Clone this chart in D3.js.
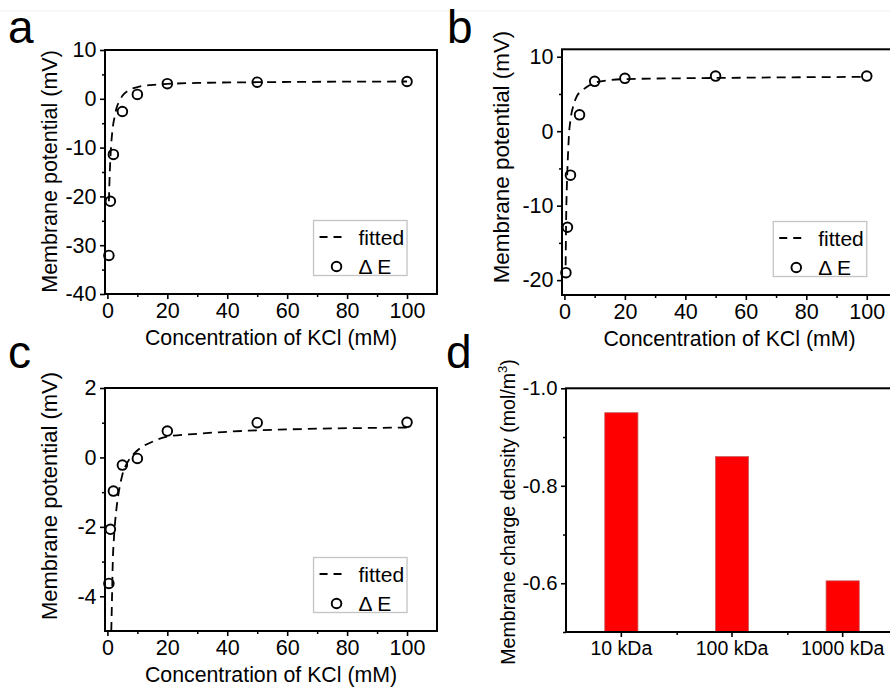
<!DOCTYPE html>
<html>
<head>
<meta charset="utf-8">
<script src="https://cdn.jsdelivr.net/npm/d3@7"></script>
<style>
  body { margin: 0; background: #fff; }
  svg { display: block; }
  text { font-family: "Liberation Sans", Arial, Helvetica, sans-serif; fill: #000; }
</style>
</head>
<body>
<svg id="fig" width="890" height="689"></svg>
<script>
// ---- data ----
const concentration = [0.5, 1, 2, 5, 10, 20, 50, 100];   // KCl, mM

const deltaE_a = [-32.1, -21.0, -11.4, -2.6, 0.9, 3.1, 3.4, 3.55];
const deltaE_b = [-19.0, -12.9, -5.9, 2.2, 6.7, 7.1, 7.4, 7.4];
const deltaE_c = [-3.63, -2.07, -0.97, -0.22, -0.03, 0.76, 1.0, 1.01];

const fitX_a = [0.5, 0.8, 1.2, 1.6, 2, 2.5, 3, 4, 5, 7, 10, 15, 20, 30, 50, 100];
const fitY_a = [-21, -15, -10, -7, -5, -3.5, -2, -0.5, 0.6, 1.7, 2.4, 2.85, 3.05, 3.25, 3.4, 3.55];

const fitX_b = [0.4, 0.6, 0.8, 1.0, 1.2, 1.5, 2, 3, 4, 6, 8, 10, 15, 20, 50, 100];
const fitY_b = [-18, -11, -7.5, -5, -3, -0.5, 1.5, 3.5, 4.6, 5.5, 6.1, 6.5, 6.85, 7.0, 7.15, 7.3];

const fitX_c = [1.3, 1.5, 1.8, 2.2, 3, 4, 5, 7, 10, 15, 20, 30, 50, 100];
const fitY_c = [-5, -4.2, -3, -2.3, -1.5, -0.9, -0.5, -0.1, 0.2, 0.45, 0.6, 0.68, 0.78, 0.86];

const membranes = ["10 kDa", "100 kDa", "1000 kDa"];
const chargeDensity = [-0.95, -0.86, -0.605];

// ---- tick values ----
const xTicks = [0, 20, 40, 60, 80, 100];
const xMinorTicks = [10, 30, 50, 70, 90];
const yTicks_a = [-40, -30, -20, -10, 0, 10];
const yMinor_a = [-35, -25, -15, -5, 5];
const yTicks_b = [-20, -10, 0, 10];
const yMinor_b = [-15, -5, 5];
const yTicks_c = [-4, -2, 0, 2];
const yMinor_c = [-3, -1, 1];
const yTicks_d = [-1.0, -0.8, -0.6];
const yMinor_d = [-0.9, -0.7, -0.5];

const svg = d3.select("#fig");
const FONT = '"Liberation Sans", Arial, Helvetica, sans-serif';

// faint rule near the top edge
svg.append("line").attr("x1", 0).attr("x2", 890).attr("y1", 11).attr("y2", 11)
  .attr("stroke", "#f0f0f0").attr("stroke-width", 1);

function styleAxis(g, size, tickW) {
  g.select(".domain").remove();
  g.attr("font-family", FONT).attr("font-size", size);
  g.selectAll(".tick line").attr("stroke", "#000").attr("stroke-width", tickW);
  g.selectAll(".tick text").attr("fill", "#000");
}

function panelLetter(ch, x, y) {
  svg.append("text").attr("x", x).attr("y", y).attr("font-size", 46).text(ch);
}

function scatterPanel(o) {
  const x = d3.scaleLinear().domain([-0.8, 110]).range([o.left, o.right]);
  const y = d3.scaleLinear().domain(o.yDomain).range([o.bottom, o.top]);
  const g = svg.append("g");

  const clipId = "clip-" + o.id;
  g.append("clipPath").attr("id", clipId).append("rect")
    .attr("x", o.left).attr("y", o.top)
    .attr("width", o.right - o.left).attr("height", o.bottom - o.top);

  // minor ticks
  g.append("g").attr("transform", `translate(0,${o.bottom})`)
    .call(d3.axisBottom(x).tickValues(xMinorTicks).tickSize(3).tickFormat(""))
    .call(a => styleAxis(a, 21, 1.5));
  g.append("g").attr("transform", `translate(${o.left},0)`)
    .call(d3.axisLeft(y).tickValues(o.yMinor).tickSize(3).tickFormat(""))
    .call(a => styleAxis(a, 21, 1.5));

  // major ticks with labels
  g.append("g").attr("transform", `translate(0,${o.bottom})`)
    .call(d3.axisBottom(x).tickValues(xTicks).tickSize(5).tickPadding(4).tickFormat(d3.format("d")))
    .call(a => styleAxis(a, 21.5, 1.6));
  g.append("g").attr("transform", `translate(${o.left},0)`)
    .call(d3.axisLeft(y).tickValues(o.yTicks).tickSize(5).tickPadding(3.5).tickFormat(d3.format("d")))
    .call(a => styleAxis(a, 21.5, 1.6));

  // frame
  g.append("rect")
    .attr("x", o.left).attr("y", o.top)
    .attr("width", o.right - o.left).attr("height", o.bottom - o.top)
    .attr("fill", "none").attr("stroke", "#000").attr("stroke-width", 2);

  // fitted curve
  const fit = o.fitX.map((v, i) => [v, o.fitY[i]]);
  g.append("path")
    .attr("clip-path", `url(#${clipId})`)
    .attr("d", d3.line().x(d => x(d[0])).y(d => y(d[1])).curve(d3.curveMonotoneX)(fit))
    .attr("fill", "none").attr("stroke", "#000").attr("stroke-width", 1.8)
    .attr("stroke-dasharray", "9,6");

  // measured points
  g.selectAll("circle.pt").data(concentration.map((c, i) => [c, o.values[i]]))
    .join("circle").attr("class", "pt")
    .attr("cx", d => x(d[0])).attr("cy", d => y(d[1])).attr("r", 4.8)
    .attr("fill", "none").attr("stroke", "#000").attr("stroke-width", 1.9);

  // legend
  const lx = x(100) - 93.5, ly = o.bottom - 18.5 - 55;
  const lg = g.append("g").attr("transform", `translate(${lx},${ly})`);
  lg.append("rect").attr("width", 93.5).attr("height", 55)
    .attr("fill", "#fff").attr("stroke", "#c4c4c4").attr("stroke-width", 1.3);
  lg.append("line").attr("x1", 6).attr("x2", 31).attr("y1", 16.5).attr("y2", 16.5)
    .attr("stroke", "#000").attr("stroke-width", 1.8).attr("stroke-dasharray", "8,6");
  lg.append("text").attr("x", 45).attr("y", 24).attr("font-size", 21).text("fitted");
  lg.append("circle").attr("cx", 23).attr("cy", 46).attr("r", 4.8)
    .attr("fill", "none").attr("stroke", "#000").attr("stroke-width", 1.9);
  lg.append("text").attr("x", 45).attr("y", 53).attr("font-size", 21).text("\u0394 E");

  // axis titles
  svg.append("text")
    .attr("x", (o.left + Math.min(o.right, 890 + 7)) / 2)
    .attr("y", o.bottom + 50.5)
    .attr("text-anchor", "middle").attr("font-size", 21.3)
    .text("Concentration of KCl (mM)");
  svg.append("text")
    .attr("transform", `translate(${o.yTitleX},${o.yTitleY}) rotate(-90)`)
    .attr("text-anchor", "middle").attr("font-size", o.yTitleSize)
    .text("Membrane potential (mV)");
}

scatterPanel({
  id: "a", left: 105, right: 437, top: 50, bottom: 294,
  yDomain: [-40, 10], yTicks: yTicks_a, yMinor: yMinor_a,
  values: deltaE_a, fitX: fitX_a, fitY: fitY_a,
  yTitleX: 56.5, yTitleY: 171.5, yTitleSize: 21.5
});
scatterPanel({
  id: "b", left: 562, right: 897, top: 49.3, bottom: 295,
  yDomain: [-22, 11], yTicks: yTicks_b, yMinor: yMinor_b,
  values: deltaE_b, fitX: fitX_b, fitY: fitY_b,
  yTitleX: 509, yTitleY: 157, yTitleSize: 22.4
});
scatterPanel({
  id: "c", left: 105, right: 437, top: 388, bottom: 631,
  yDomain: [-5, 2], yTicks: yTicks_c, yMinor: yMinor_c,
  values: deltaE_c, fitX: fitX_c, fitY: fitY_c,
  yTitleX: 57, yTitleY: 496, yTitleSize: 22
});

// ---- panel d: bar chart ----
(function () {
  const left = 566, right = 898, top = 388.3, bottom = 632;
  const x = d3.scaleBand().domain(membranes).range([left, right])
    .paddingInner(0.7).paddingOuter(0.35);
  const y = d3.scaleLinear().domain([-0.5, -1.0]).range([bottom, top]);
  const g = svg.append("g");

  g.selectAll("rect.bar").data(membranes.map((m, i) => [m, chargeDensity[i]]))
    .join("rect").attr("class", "bar")
    .attr("x", d => x(d[0])).attr("width", x.bandwidth())
    .attr("y", d => y(d[1])).attr("height", d => bottom - y(d[1]))
    .attr("fill", "#ff0000").attr("stroke", "#c86464").attr("stroke-width", 0.8);

  // category ticks at centres, minor ticks at band boundaries
  const bounds = membranes.slice(1).map(m => x(m) + x.bandwidth() / 2 - x.step() / 2);
  const xPos = d3.scaleLinear().domain([0, 1]).range([0, 1]);
  g.append("g").attr("transform", `translate(0,${bottom})`)
    .call(d3.axisBottom(xPos).tickValues(bounds).tickSize(3).tickFormat(""))
    .call(a => styleAxis(a, 20, 1.5));
  g.append("g").attr("transform", `translate(0,${bottom})`)
    .call(d3.axisBottom(x).tickSize(5).tickPadding(4))
    .call(a => styleAxis(a, 19.5, 1.6));

  g.append("g").attr("transform", `translate(${left},0)`)
    .call(d3.axisLeft(y).tickValues(yMinor_d).tickSize(3).tickFormat(""))
    .call(a => styleAxis(a, 20, 1.5));
  g.append("g").attr("transform", `translate(${left},0)`)
    .call(d3.axisLeft(y).tickValues(yTicks_d).tickSize(5).tickPadding(3.5).tickFormat(d3.format(".1f")))
    .call(a => styleAxis(a, 20.3, 1.6));

  g.append("rect").attr("x", left).attr("y", top)
    .attr("width", right - left).attr("height", bottom - top)
    .attr("fill", "none").attr("stroke", "#000").attr("stroke-width", 2);

  const t = svg.append("text")
    .attr("transform", `translate(515,512) rotate(-90)`)
    .attr("text-anchor", "middle").attr("font-size", 19.6);
  t.append("tspan").text("Membrane charge density (mol/m");
  t.append("tspan").attr("dy", -8).attr("font-size", 13).text("3");
  t.append("tspan").attr("dy", 8).text(")");
})();

// tick labels use hyphen-minus
svg.selectAll(".tick text").text(function () { return this.textContent.replace(/\u2212/g, "-"); });

panelLetter("a", 8, 43);
panelLetter("b", 447, 43);
panelLetter("c", 8, 368);
panelLetter("d", 446, 368);
</script>
</body>
</html>
